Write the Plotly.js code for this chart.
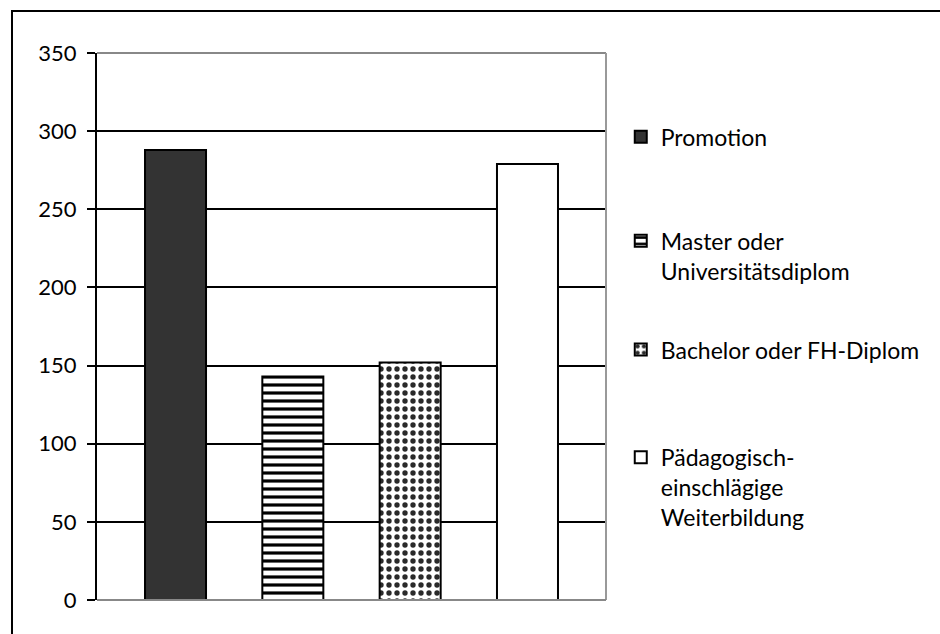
<!DOCTYPE html>
<html>
<head>
<meta charset="utf-8">
<script src="https://cdn.plot.ly/plotly-3.0.1.min.js"></script>
<style>
  html, body { margin: 0; padding: 0; background: #ffffff; }
  #chart { width: 940px; height: 634px; }
</style>
</head>
<body>
<div id="chart"></div>
<script>
// Qualification categories and their counts
const seriesNames = [
  'Promotion',
  'Master oder<br>Universitätsdiplom',
  'Bachelor oder FH-Diplom',
  'Pädagogisch-<br>einschlägige<br>Weiterbildung'
];
const seriesValues = [288, 143, 152, 279];
const yTickValues = [0, 50, 100, 150, 200, 250, 300, 350];
const yTickLabels = ['0', '50', '100', '150', '200', '250', '300', '350'];

// Fill style for each series
const fills = [
  { color: '#333333' },
  { color: '#ffffff', pattern: { shape: '-', fgcolor: '#000000', bgcolor: '#ffffff', size: 8, solidity: 0.4 } },
  { color: '#ffffff', pattern: { shape: '.', fgcolor: '#2a2a2a', bgcolor: '#ffffff', size: 8, solidity: 0.35 } },
  { color: '#ffffff' }
];

// Vertical placement (paper units) for each legend block
const legendTops = [0.886, 0.696, 0.497, 0.3];
const legendIds = ['legend', 'legend2', 'legend3', 'legend4'];

const traces = seriesNames.map((name, i) => ({
  type: 'bar',
  name: name,
  x: [0],
  y: [seriesValues[i]],
  legend: legendIds[i],
  marker: Object.assign({ line: { color: '#000000', width: 2 } }, fills[i]),
  hoverinfo: 'skip'
}));

const FONT = 'Lato, "Open Sans", sans-serif';

const layout = {
  width: 940,
  height: 634,
  margin: { l: 97, r: 334, t: 53, b: 34, pad: 0, autoexpand: false },
  paper_bgcolor: '#ffffff',
  plot_bgcolor: '#ffffff',
  font: { family: FONT, size: 22, color: '#000000' },
  barmode: 'group',
  bargap: 0.078,
  bargroupgap: 0.48,
  showlegend: true,
  xaxis: {
    range: [-0.5, 0.5],
    showticklabels: false,
    showgrid: false,
    zeroline: false,
    showline: false,
    ticks: '',
    fixedrange: true
  },
  yaxis: {
    range: [0, 350],
    tickmode: 'array',
    tickvals: yTickValues,
    ticktext: yTickLabels,
    showgrid: true,
    gridcolor: '#000000',
    gridwidth: 2,
    zeroline: false,
    showline: true,
    linecolor: '#000000',
    linewidth: 2,
    ticks: 'outside',
    ticklen: 8,
    tickwidth: 2,
    tickcolor: '#000000',
    ticklabelstandoff: 6,
    tickfont: { family: FONT, size: 22, color: '#000000' },
    fixedrange: true
  },
  shapes: [
    // plot-area frame (top, right, bottom) in grey
    { type: 'line', xref: 'paper', yref: 'paper', x0: 0, x1: 1, y0: 1, y1: 1, line: { color: '#888888', width: 2 }, layer: 'above' },
    { type: 'line', xref: 'paper', yref: 'paper', x0: 1, x1: 1, y0: 0, y1: 1, line: { color: '#999999', width: 2 }, layer: 'above' },
    { type: 'line', xref: 'paper', yref: 'paper', x0: 0, x1: 1, y0: 0, y1: 0, line: { color: '#888888', width: 2 }, layer: 'above' },
    // outer chart frame
    { type: 'rect', xref: 'paper', yref: 'paper', x0: -0.167, x1: 1.7, y0: -0.1, y1: 1.077, line: { color: '#000000', width: 2 }, fillcolor: 'rgba(0,0,0,0)', layer: 'above' }
  ]
};

legendIds.forEach((id, i) => {
  layout[id] = {
    x: 1.029,
    xanchor: 'left',
    y: legendTops[i],
    yanchor: 'top',
    valign: 'top',
    bgcolor: 'rgba(0,0,0,0)',
    borderwidth: 0,
    font: { family: FONT, size: 23, color: '#000000' },
    itemclick: false,
    itemdoubleclick: false
  };
});

Plotly.newPlot('chart', traces, layout, { displayModeBar: false, staticPlot: true });
</script>
</body>
</html>
